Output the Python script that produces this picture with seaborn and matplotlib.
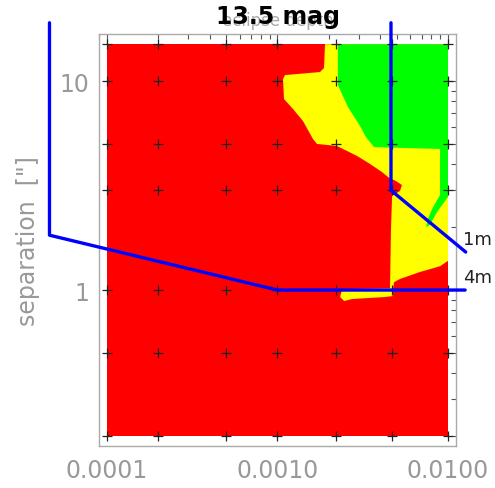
import numpy as np
import pandas as pd
import matplotlib
matplotlib.use("Agg")
import matplotlib.pyplot as plt
import matplotlib.ticker as mticker
import seaborn as sns

# ---------------- data ----------------
title_text = "13.5 mag"
ghost_text = "eclipse depth"
ylabel_text = 'separation  ["]'

# simulation grid (eclipse depth, separation in arcsec)
grid_depth = [1e-4, 2e-4, 5e-4, 1e-3, 2.2e-3, 4.7e-3, 1e-2]
grid_sep = [0.2, 0.5, 1.0, 3.0, 5.0, 10.0, 15.0]

# outline of the yellow (+green) zone
yellow_depth = [1.90e-3, 1.0e-2, 1.0e-2, 8.98e-3, 6.85e-3, 5.23e-3, 4.82e-3,
                4.76e-3, 4.76e-3, 4.27e-3, 2.74e-3, 2.46e-3, 2.33e-3, 2.39e-3,
                4.57e-3, 4.63e-3, 4.70e-3, 5.23e-3, 5.37e-3, 4.96e-3, 4.51e-3,
                4.10e-3, 3.49e-3, 2.93e-3, 2.23e-3, 1.705e-3, 1.615e-3,
                1.41e-3, 1.233e-3, 1.092e-3, 1.077e-3, 1.107e-3, 1.775e-3,
                1.874e-3]
yellow_sep = [15.0, 15.0, 1.38, 1.30, 1.22, 1.13, 1.09,
              1.01, 0.936, 0.926, 0.906, 0.886, 0.926, 1.01,
              1.02, 1.96, 2.82, 2.98, 3.18, 3.32, 3.44,
              3.67, 4.01, 4.38, 4.89, 5.0, 5.28,
              6.44, 7.35, 8.20, 10.22, 10.68, 11.04,
              11.54]

# outline of the green zone
green_depth = [2.26e-3, 1.0e-2, 1.0e-2, 8.62e-3, 7.84e-3, 7.43e-3, 7.63e-3,
               8.06e-3, 8.98e-3, 8.98e-3, 3.68e-3, 3.30e-3, 3.05e-3, 2.59e-3,
               2.26e-3]
green_sep = [15.0, 15.0, 2.79, 2.36, 2.05, 2.00, 2.19,
             2.44, 2.85, 4.73, 4.83, 5.40, 6.09, 7.51,
             9.57]

# telescope limit curves
limit_1m_depth = [4.63e-3, 4.63e-3, 1.27e-2]
limit_1m_sep = [19.0, 3.0, 1.52]
limit_4m_depth = [4.6e-5, 4.6e-5, 1.0e-3, 1.26e-2]
limit_4m_sep = [19.0, 1.83, 1.0, 1.0]
limit_labels = ["1m", "4m"]
label_depth = [1.22e-2, 1.22e-2]
label_sep = [1.75, 1.15]

xtick_vals = [1e-4, 1e-3, 1e-2]
xtick_labels = ["0.0001", "0.0010", "0.0100"]
ytick_vals = [1, 10]
ytick_labels = ["1", "10"]

# ---------------- style ----------------
sns.set_style("white")
plt.rcParams["font.family"] = ["DejaVu Sans"]

fig = plt.figure(figsize=(4.95, 4.89), dpi=100)
ax = fig.add_axes([99 / 495, 1 - 447 / 489, (456 - 99) / 495, (447 - 35) / 489])
ax.set_xscale("log")
ax.set_yscale("log")

# red background over the simulated grid
x0, x1 = min(grid_depth), max(grid_depth)
y0, y1 = min(grid_sep), max(grid_sep)
ax.fill([x0, x1, x1, x0], [y0, y0, y1, y1], color="#ff0000", lw=0, zorder=1)
ax.fill(yellow_depth, yellow_sep, color="#ffff00", lw=0, zorder=2)
ax.fill(green_depth, green_sep, color="#00ff00", lw=0, zorder=3)

# grid points
gx, gy = np.meshgrid(grid_depth, grid_sep)
grid_df = pd.DataFrame({"depth": gx.ravel(), "sep": gy.ravel()})
sns.scatterplot(data=grid_df, x="depth", y="sep", marker="+", s=55,
                color="#222222", linewidth=0.9, ax=ax, zorder=4, legend=False)

# limit lines
df1 = pd.DataFrame({"depth": limit_1m_depth, "sep": limit_1m_sep})
df4 = pd.DataFrame({"depth": limit_4m_depth, "sep": limit_4m_sep})
for d in (df1, df4):
    sns.lineplot(data=d, x="depth", y="sep", sort=False, estimator=None,
                 color="#0000ff", linewidth=2.4, ax=ax, zorder=5, clip_on=False)
for lab, xd, yd in zip(limit_labels, label_depth, label_sep):
    ax.text(xd, yd, lab, fontsize=13, color="#222222", ha="left", va="center",
            clip_on=False)

# axes
ax.set_xlim(8.977e-5, 1.114e-2)
ax.set_ylim(0.1794, 16.79)
ax.xaxis.set_major_locator(mticker.FixedLocator(xtick_vals))
ax.xaxis.set_major_formatter(mticker.FixedFormatter(xtick_labels))
ax.yaxis.set_major_locator(mticker.FixedLocator(ytick_vals))
ax.yaxis.set_major_formatter(mticker.FixedFormatter(ytick_labels))
ax.xaxis.set_minor_locator(mticker.LogLocator(base=10, subs=np.arange(2, 10)))
ax.yaxis.set_minor_locator(mticker.LogLocator(base=10, subs=np.arange(2, 10)))
ax.xaxis.set_minor_formatter(mticker.NullFormatter())
ax.yaxis.set_minor_formatter(mticker.NullFormatter())
ax.tick_params(which="both", direction="in", top=True, right=True,
               color="#555555", width=0.8)
ax.tick_params(which="major", length=7, labelsize=17, labelcolor="#999999")
ax.tick_params(axis="x", which="major", pad=9)
ax.tick_params(axis="y", which="major", pad=7)
ax.tick_params(which="minor", length=3.6)
for sp in ax.spines.values():
    sp.set_color("#aaaaaa")
    sp.set_linewidth(1.0)

ax.set_xlabel("")
ax.set_ylabel(ylabel_text, fontsize=17, color="#999999", labelpad=14)

ax.set_title(title_text, fontsize=17, fontweight="bold", color="black", pad=8,
             zorder=10)
ax.text(0.5, 1.022, ghost_text, transform=ax.transAxes, ha="center",
        va="baseline", fontsize=12, color="#aaaaaa", zorder=0.5, clip_on=False)

fig.savefig("out.png", dpi=100)
